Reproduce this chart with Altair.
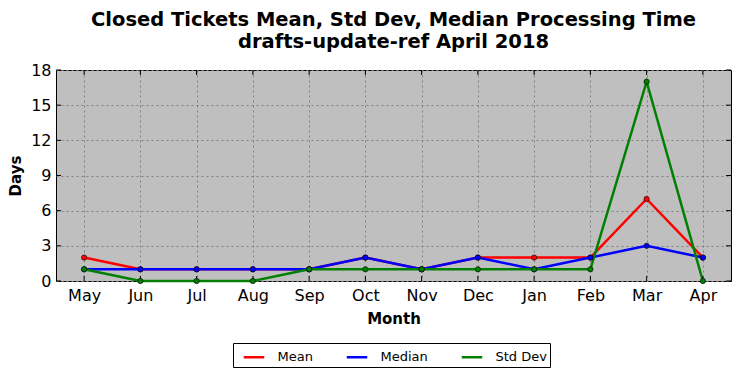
import altair as alt
import pandas as pd

months = ["May", "Jun", "Jul", "Aug", "Sep", "Oct", "Nov", "Dec", "Jan", "Feb", "Mar", "Apr"]
mean_vals = [2, 1, 1, 1, 1, 2, 1, 2, 2, 2, 7, 2]
median_vals = [1, 1, 1, 1, 1, 2, 1, 2, 1, 2, 3, 2]
std_vals = [1, 0, 0, 0, 1, 1, 1, 1, 1, 1, 17, 0]
series_names = ["Mean", "Median", "Std Dev"]
series_colors = ["#ff0000", "#0000ff", "#008000"]
y_ticks = [0, 3, 6, 9, 12, 15, 18]

W, H = 675, 211
FONT = "DejaVu Sans"

rows = []
for name, vals in zip(series_names, [mean_vals, median_vals, std_vals]):
    for m, v in zip(months, vals):
        rows.append({"Month": m, "Days": v, "Series": name})
df = pd.DataFrame(rows)

xscale = alt.Scale(domain=months, type="point", padding=0.5)
yscale = alt.Scale(domain=[0, 18], nice=False, zero=True)
cscale = alt.Scale(domain=series_names, range=series_colors)

xaxis = alt.Axis(title="Month", labelAngle=0, labelFontSize=16, labelFont=FONT,
                 titleFont=FONT, titleFontSize=15, titleFontWeight="bold",
                 labelPadding=6, titlePadding=8, ticks=False, domain=False,
                 grid=True, gridColor="#808080", gridDash=[2, 3], gridWidth=1,
                 labelColor="black", titleColor="black")
yaxis = alt.Axis(title="Days", values=y_ticks, labelFontSize=16, labelFont=FONT,
                 titleFont=FONT, titleFontSize=15, titleFontWeight="bold",
                 labelPadding=5, titlePadding=7, ticks=False, domain=False,
                 grid=True, gridColor="#808080", gridDash=[2, 3], gridWidth=1,
                 labelColor="black", titleColor="black", labelOverlap=False)

base = alt.Chart(df)

lines = base.mark_line(strokeWidth=2.5).encode(
    x=alt.X("Month:N", scale=xscale, sort=months, axis=xaxis),
    y=alt.Y("Days:Q", scale=yscale, axis=yaxis),
    color=alt.Color("Series:N", scale=cscale, sort=series_names,
                    legend=alt.Legend(title=None, orient="none", direction="horizontal",
                                      legendX=177, legendY=273, symbolType="stroke",
                                      symbolSize=420, symbolStrokeWidth=2.5,
                                      symbolOffset=7,
                                      labelFont=FONT, labelFontSize=13, labelColor="black",
                                      columnPadding=25, labelOffset=12, padding=2.5,
                                      strokeColor="black", fillColor="white")),
)

points = base.mark_point(filled=True, size=28, stroke="black", strokeWidth=0.6, opacity=1).encode(
    x=alt.X("Month:N", scale=xscale, sort=months, axis=xaxis),
    y=alt.Y("Days:Q", scale=yscale, axis=yaxis),
    fill=alt.Fill("Series:N", scale=cscale, legend=None),
)

ydf = pd.DataFrame({"v": y_ticks})
xdf = pd.DataFrame({"m": months})

yt_left = alt.Chart(ydf).mark_rule(color="black", strokeWidth=1).encode(
    y=alt.Y("v:Q", scale=yscale, axis=yaxis), x=alt.value(0), x2=alt.value(5))
yt_right = alt.Chart(ydf).mark_rule(color="black", strokeWidth=1).encode(
    y=alt.Y("v:Q", scale=yscale, axis=yaxis), x=alt.value(W - 5), x2=alt.value(W))
xt_bottom = alt.Chart(xdf).mark_rule(color="black", strokeWidth=1).encode(
    x=alt.X("m:N", scale=xscale, sort=months, axis=xaxis), y=alt.value(H - 5), y2=alt.value(H))
xt_top = alt.Chart(xdf).mark_rule(color="black", strokeWidth=1).encode(
    x=alt.X("m:N", scale=xscale, sort=months, axis=xaxis), y=alt.value(0), y2=alt.value(5))

chart = alt.layer(lines, yt_left, yt_right, xt_bottom, xt_top, points).properties(
    width=W, height=H,
    title=alt.TitleParams(
        text=["Closed Tickets Mean, Std Dev, Median Processing Time",
              "drafts-update-ref April 2018"],
        font=FONT, fontSize=19.5, fontWeight="bold", anchor="middle", offset=10,
        lineHeight=22, color="black"),
    autosize=alt.AutoSizeParams(type="none"),
    padding={"left": 48, "top": 62, "right": 2, "bottom": 89},
).configure(background="white").configure_view(
    fill="#bfbfbf", stroke="black", strokeWidth=1
)

chart.save("out.html", embed_options={"renderer": "svg", "actions": False})
